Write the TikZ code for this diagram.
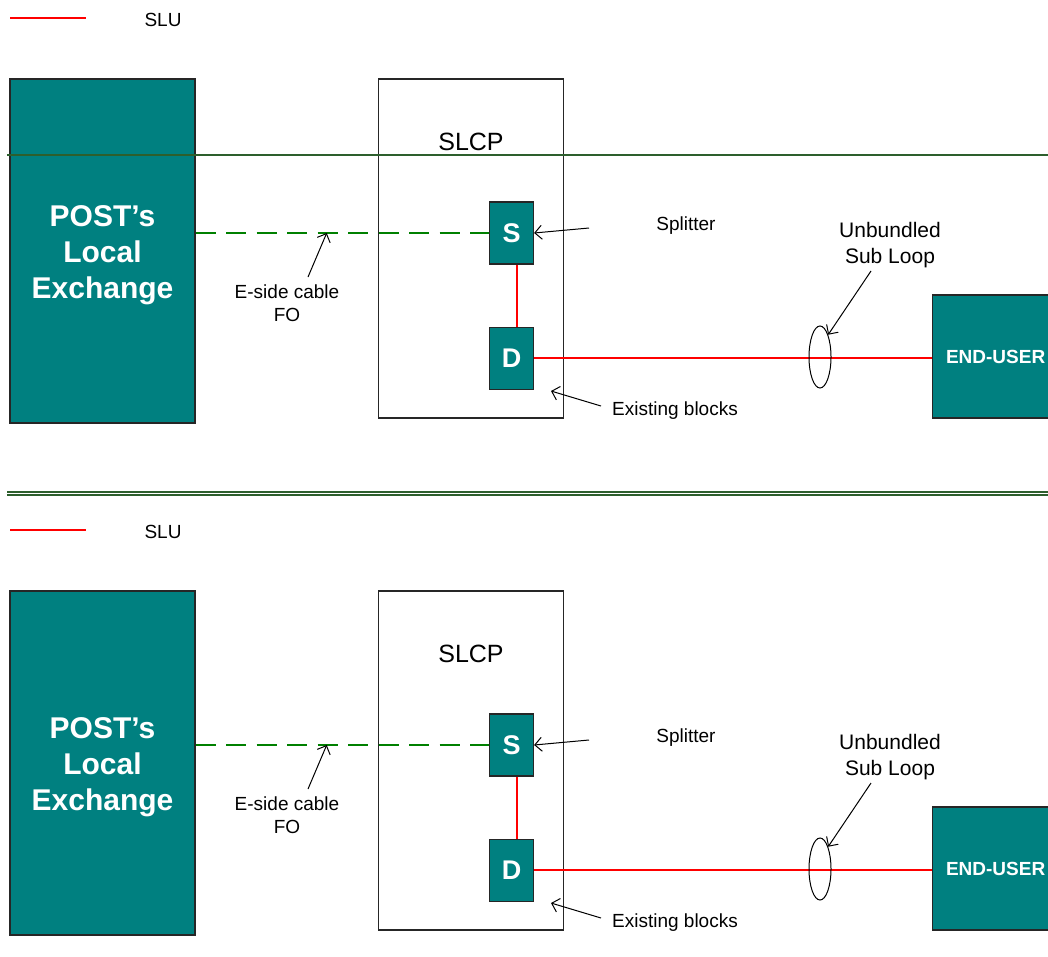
\documentclass[tikz,border=0pt]{standalone}
\usepackage{fontspec}
\setmainfont{Liberation Sans}
\usepackage{tikz}
\usetikzlibrary{positioning, arrows.meta, shapes.geometric}
\definecolor{postteal}{RGB}{0,128,128}
\definecolor{rulegreen}{RGB}{45,95,45}
\definecolor{fogreen}{RGB}{0,128,0}
\tikzset{
    block/.style={rectangle, draw=black!85, line width=1.2pt, fill=postteal, text=white, align=center, inner sep=0pt},
    cabinet/.style={rectangle, draw=black!85, line width=1.2pt, fill=white, inner sep=0pt},
    slu/.style={draw=red, line width=1.5pt},
    fo/.style={draw=fogreen, line width=2.6pt, dash pattern=on 20pt off 10.5pt},
    pointer/.style={-{Straight Barb[length=7pt, width=14pt]}, line width=1pt},
    label/.style={font=\fontsize{19}{23}\selectfont, align=center, inner sep=0pt}
}
\begin{document}
\begin{tikzpicture}[x=1pt, y=-1pt]
    \useasboundingbox (0,0) rectangle (1048,956);

    \foreach \dy/\n in {0/a, 512/b} {
        % Legend
        \coordinate (legL\n) at (10, 18+\dy);
        \coordinate (legR\n) at (86, 18+\dy);
        \draw[slu] (legL\n) -- (legR\n);
        \node[label] (sluL\n) at (163, 20+\dy) {SLU};

        % Exchange and cabinet
        \node[block, minimum width=185pt, minimum height=344pt] (exch\n) at (102.5, 251+\dy) {};
        \node[text=white, align=center, inner sep=0pt, font=\bfseries\fontsize{30}{36}\selectfont] (exchL\n) at (102.5, 255+\dy) {POST’s\\Local\\Exchange};
        \node[cabinet, minimum width=185pt, minimum height=339pt] (slcp\n) at (471, 248.5+\dy) {};
        \node[font=\fontsize{25}{30}\selectfont, inner sep=0pt] (slcpL\n) at (471, 142+\dy) {SLCP};

        % Splitter and distribution block
        \node[block, minimum width=44pt, minimum height=62pt, font=\bfseries\fontsize{27}{30}\selectfont] (spl\n) at (511.5, 233+\dy) {S};
        \node[block, minimum width=44pt, minimum height=62pt, font=\bfseries\fontsize{27}{30}\selectfont, below=62pt of spl\n] (dist\n) {D};

        % End user
        \node[block, minimum width=126pt, minimum height=123pt, font=\bfseries\fontsize{19}{23}\selectfont, anchor=west] (user\n) at (932, 356.5+\dy) {END-USER};

        % Cables
        \draw[fo] (exch\n.east |- spl\n) -- (spl\n.west) coordinate[pos=0.447] (fohit\n);
        \draw[slu] ([xshift=5.5pt]spl\n.south) -- ([xshift=5.5pt]dist\n.north);
        \draw[slu] (dist\n.east) -- (dist\n.east -| user\n.west);
        \node[ellipse, draw, line width=1pt, minimum width=22pt, minimum height=62pt, inner sep=0pt] (loop\n) at (820, 357+\dy) {};

        % Labels
        \node[label] (foL\n) at (287, 303+\dy) {E-side cable\\FO};
        \coordinate (fotail\n) at (308, 277+\dy);
        \draw[pointer] (fotail\n) -- (fohit\n);

        \node[label] (splL\n) at (686, 226+\dy) {Splitter};
        \coordinate (spltail\n) at (589, 228+\dy);
        \draw[pointer] (spltail\n) -- (spl\n.east);

        \node[label, font=\fontsize{21}{26}\selectfont] (subL\n) at (890, 245+\dy) {Unbundled\\Sub Loop};
        \coordinate (subtail\n) at (871, 271+\dy);
        \draw[pointer] (subtail\n) -- (loop\n.north east);

        \node[label] (exL\n) at (675, 411+\dy) {Existing blocks};
        \coordinate (extail\n) at (601, 406+\dy);
        \coordinate (exhit\n) at (551, 391+\dy);
        \draw[pointer] (extail\n) -- (exhit\n);
    }

    % Rules
    \coordinate (ruleL) at (7, 155);
    \coordinate (ruleR) at (1048, 155);
    \draw[draw=rulegreen, line width=1.6pt] (ruleL) -- (ruleR);
    \coordinate (sepAL) at (7, 492);
    \coordinate (sepAR) at (1048, 492);
    \coordinate (sepBL) at (7, 495);
    \coordinate (sepBR) at (1048, 495);
    \draw[draw=rulegreen, line width=1.1pt] (sepAL) -- (sepAR);
    \draw[draw=rulegreen, line width=1.1pt] (sepBL) -- (sepBR);

\end{tikzpicture}
\end{document}
